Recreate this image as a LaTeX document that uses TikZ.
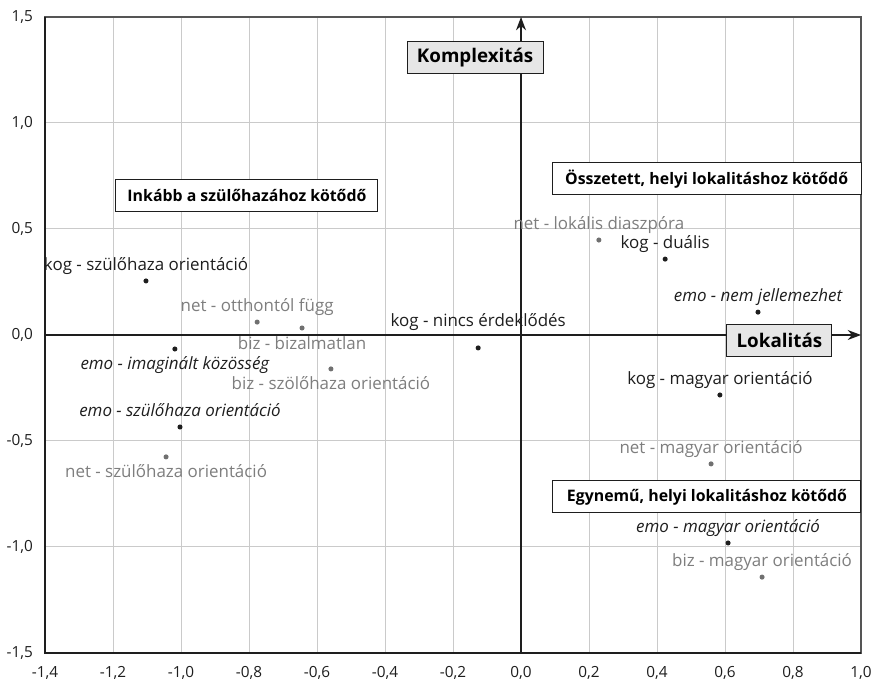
\documentclass[tikz,border=0pt]{standalone}
\usepackage{fontspec}
\setmainfont{Open Sans}
\usetikzlibrary{arrows.meta}
\definecolor{ink}{HTML}{1E1E1E}
\definecolor{soft}{HTML}{7E7E7E}
\definecolor{softdot}{HTML}{707070}
\definecolor{gridc}{HTML}{CACACA}
\definecolor{framec}{HTML}{555555}
\definecolor{boxfill}{HTML}{E6E6E6}
\begin{document}
\begin{tikzpicture}[x=255pt,y=159pt,
  gridline/.style={draw=gridc, line width=0.75pt},
  axisline/.style={draw=ink, line width=1pt, -{Stealth[length=10pt,width=7.5pt]}},
  dotk/.style={circle, fill=ink, inner sep=0pt, minimum size=3.8pt},
  dotg/.style={circle, fill=softdot, inner sep=0pt, minimum size=3.8pt},
  labk/.style={text=ink, font=\fontsize{12.7}{14}\selectfont, inner sep=0pt},
  labe/.style={text=ink, font=\itshape\fontsize{12.7}{14}\selectfont, inner sep=0pt},
  labg/.style={text=soft, font=\fontsize{12.7}{14}\selectfont, inner sep=0pt},
  labup/.style={anchor=base, yshift=7.9pt},
  labdn/.style={anchor=base, yshift=-15.75pt},
  quad/.style={draw=ink, line width=0.75pt, fill=white, font=\bfseries\fontsize{11.9}{13}\selectfont, minimum height=24pt, inner sep=0pt},
  axlab/.style={draw=ink, line width=0.75pt, fill=boxfill, font=\bfseries\fontsize{14.1}{16}\selectfont, minimum height=24pt, inner sep=0pt},
  ticklab/.style={font=\fontsize{11.5}{13}\selectfont, text=ink, inner sep=0pt}
]
% canvas
\path[use as bounding box, fill=white] (-1.5324,-1.6368) rectangle (1.0441,1.5802);
% grid
\foreach \gx in {-1.2,-1.0,...,0.9} \draw[gridline] (\gx,-1.5) -- (\gx,1.5);
\foreach \gy in {-1.0,-0.5,0.5,1.0} \draw[gridline] (-1.4,\gy) -- (1.0,\gy);
% frame
\draw[draw=framec, line width=0.8pt] (-1.4,-1.5) rectangle (1.0,1.5);
\draw[draw=ink, line width=1pt] (-1.4,1.5) -- (-1.4,-1.5) -- (1.0,-1.5);
% tick labels
\foreach \v/\t in {-1.4/{-1,4},-1.2/{-1,2},-1.0/{-1,0},-0.8/{-0,8},-0.6/{-0,6},-0.4/{-0,4},-0.2/{-0,2},0.0/{0,0},0.2/{0,2},0.4/{0,4},0.6/{0,6},0.8/{0,8},1.0/{1,0}}
  \node[ticklab] at (\v,-1.594) {\t};
\foreach \v/\t in {-1.5/{-1,5},-1.0/{-1,0},-0.5/{-0,5},0.0/{0,0},0.5/{0,5},1.0/{1,0},1.5/{1,5}}
  \node[ticklab, anchor=east] at (-1.435,\v) {\t};
% axes
\coordinate (ybot) at (0,-1.5);
\coordinate (ytop) at (0,1.5);
\coordinate (xlft) at (-1.4,0);
\coordinate (xrgt) at (1.0,0);
\draw[axisline] (ybot) -- (ytop);
\draw[axisline] (xlft) -- (xrgt);
% axis boxes
\node[axlab, minimum width=102pt] (komp) at (-0.135,1.307) {Komplexitás};
\node[axlab, minimum width=78.75pt] (lok) at (0.760,-0.026) {Lokalitás};
% quadrant boxes
\node[quad, minimum width=196.5pt] (q1) at (-0.806,0.660) {Inkább a szülőhazához kötődő};
\node[quad, minimum width=231.75pt] (q2) at (0.546,0.736) {Összetett, helyi lokalitáshoz kötődő};
\node[quad, minimum width=231pt] (q3) at (0.547,-0.764) {Egynemű, helyi lokalitáshoz kötődő};
% points
\node[dotk] (p1) at (-1.103,0.255) {};
\node[labk, labup] (l1) at (p1) {kog - szülőhaza orientáció};
\node[dotg] (p2) at (-0.776,0.061) {};
\node[labg, labup] (l2) at (p2) {net - otthontól függ};
\node[dotg] (p3) at (-0.644,0.033) {};
\node[labg, labdn] (l3) at (p3) {biz - bizalmatlan};
\node[dotk] (p4) at (-1.018,-0.066) {};
\node[labe, labdn] (l4) at (p4) {emo - imaginált közösség};
\node[dotg] (p5) at (-0.559,-0.160) {};
\node[labg, labdn] (l5) at (p5) {biz - szölőhaza orientáció};
\node[dotk] (p6) at (-1.003,-0.434) {};
\node[labe, labup] (l6) at (p6) {emo - szülőhaza orientáció};
\node[dotg] (p7) at (-1.044,-0.575) {};
\node[labg, labdn] (l7) at (p7) {net - szülőhaza orientáció};
\node[dotk] (p8) at (-0.126,-0.061) {};
\node[labk, anchor=base, yshift=15.75pt] (l8) at (p8) {kog - nincs érdeklődés};
\node[dotg] (p9) at (0.229,0.448) {};
\node[labg, labup] (l9) at (p9) {net - lokális diaszpóra};
\node[dotk] (p10) at (0.424,0.358) {};
\node[labk, labup] (l10) at (p10) {kog - duális};
\node[dotk] (p11) at (0.697,0.108) {};
\node[labe, labup] (l11) at (p11) {emo - nem jellemezhet};
\node[dotk] (p12) at (0.585,-0.283) {};
\node[labk, labup] (l12) at (p12) {kog - magyar orientáció};
\node[dotg] (p13) at (0.559,-0.608) {};
\node[labg, labup] (l13) at (p13) {net - magyar orientáció};
\node[dotk] (p14) at (0.609,-0.981) {};
\node[labe, labup] (l14) at (p14) {emo - magyar orientáció};
\node[dotg] (p15) at (0.709,-1.142) {};
\node[labg, labup] (l15) at (p15) {biz - magyar orientáció};
\end{tikzpicture}
\end{document}
